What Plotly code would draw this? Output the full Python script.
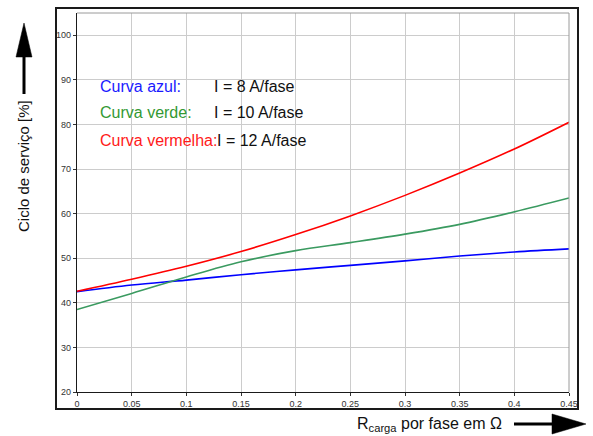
import plotly.graph_objects as go

# Load resistance per phase (ohm) and duty cycle (%) for three phase currents
r_carga = [0.0, 0.05, 0.10, 0.15, 0.20, 0.25, 0.30, 0.35, 0.40, 0.45]
ciclo_8A = [42.5, 44.0, 45.1, 46.3, 47.4, 48.4, 49.4, 50.5, 51.4, 52.1]
ciclo_10A = [38.5, 42.1, 45.8, 49.2, 51.7, 53.5, 55.4, 57.6, 60.4, 63.5]
ciclo_12A = [42.6, 45.3, 48.2, 51.5, 55.3, 59.5, 64.1, 69.1, 74.5, 80.5]

x_ticks = [0, 0.05, 0.1, 0.15, 0.2, 0.25, 0.3, 0.35, 0.4, 0.45]
x_tick_text = ["0", "0.05", "0.1", "0.15", "0.2", "0.25", "0.3", "0.35", "0.4", "0.45"]
y_ticks = [20, 30, 40, 50, 60, 70, 80, 90, 100]

legend_rows = [
    ("Curva azul:", "I = 8 A/fase", "#1a1aff"),
    ("Curva verde:", "I = 10 A/fase", "#339933"),
    ("Curva vermelha:", "I = 12 A/fase", "#ff1a1a"),
]

FONT = "Arial, Liberation Sans, sans-serif"
W, H = 593, 436
L, R, T, B = 77, 24, 13, 44
PW, PH = W - L - R, H - T - B


def px(x):
    return (x - L) / PW


def py(y):
    return (H - B - y) / PH


fig = go.Figure()
for ys, col in [(ciclo_8A, "#0000ff"), (ciclo_10A, "#3a9a60"), (ciclo_12A, "#ff0000")]:
    fig.add_trace(go.Scatter(x=r_carga, y=ys, mode="lines",
                             line=dict(color=col, width=1.6, shape="spline", smoothing=1.0),
                             showlegend=False, hoverinfo="skip"))

shapes = [
    # outer frame
    dict(type="rect", xref="paper", yref="paper", x0=px(56), x1=px(578), y0=py(409), y1=py(8),
         line=dict(color="#1a1a1a", width=2), layer="above"),
    # top and right plot borders
    dict(type="line", xref="paper", yref="paper", x0=0, x1=1, y0=1, y1=1,
         line=dict(color="#9a9a9a", width=1)),
    dict(type="line", xref="paper", yref="paper", x0=1, x1=1, y0=0, y1=1,
         line=dict(color="#9a9a9a", width=1)),
    # white panel behind the curve captions
    dict(type="rect", xref="paper", yref="paper", x0=px(97), x1=px(325), y0=py(157), y1=py(81),
         fillcolor="white", line=dict(width=0), layer="between"),
    # y-axis arrow: shaft + head
    dict(type="line", xref="paper", yref="paper", x0=px(24), x1=px(24), y0=py(94), y1=py(54),
         line=dict(color="black", width=3)),
    dict(type="path", xref="paper", yref="paper",
         path=f"M {px(24)} {py(23)} L {px(16)} {py(57)} L {px(32)} {py(57)} Z",
         fillcolor="black", line=dict(color="black", width=0.5)),
    # x-axis arrow: shaft + head
    dict(type="line", xref="paper", yref="paper", x0=px(514), x1=px(556), y0=py(424), y1=py(424),
         line=dict(color="black", width=3)),
    dict(type="path", xref="paper", yref="paper",
         path=f"M {px(586)} {py(424)} L {px(552)} {py(414)} L {px(552)} {py(434)} Z",
         fillcolor="black", line=dict(color="black", width=0.5)),
]

annotations = []
row_y = [86, 112, 140]
for (lab, val, col), yy in zip(legend_rows, row_y):
    annotations.append(dict(xref="paper", yref="paper", x=px(98), y=py(yy), text=lab,
                            xanchor="left", yanchor="middle", showarrow=False,
                            font=dict(family=FONT, size=16, color=col)))
    annotations.append(dict(xref="paper", yref="paper", x=px(212 if yy < 130 else 215), y=py(yy), text=val,
                            xanchor="left", yanchor="middle", showarrow=False,
                            font=dict(family=FONT, size=16, color="#111111")))

annotations.append(dict(xref="paper", yref="paper", x=px(23), y=py(166),
                        text="Ciclo de serviço [%]", textangle=-90, showarrow=False,
                        xanchor="center", yanchor="middle",
                        font=dict(family=FONT, size=15, color="#111111")))
annotations.append(dict(xref="paper", yref="paper", x=px(429), y=py(424),
                        text="R<sub>carga</sub> por fase em Ω", showarrow=False,
                        xanchor="center", yanchor="middle",
                        font=dict(family=FONT, size=16, color="#111111")))

fig.update_layout(
    width=W, height=H,
    margin=dict(l=L, r=R, t=T, b=B),
    paper_bgcolor="white", plot_bgcolor="white",
    shapes=shapes, annotations=annotations,
    xaxis=dict(range=[0, 0.45], tickvals=x_ticks, ticktext=x_tick_text,
               showgrid=True, gridcolor="#cccccc", gridwidth=1,
               showline=True, linecolor="#1a1a1a", linewidth=1.2,
               ticks="outside", ticklen=3, tickcolor="#333333",
               tickfont=dict(family=FONT, size=9, color="#333333"), zeroline=False),
    yaxis=dict(range=[20, 105], tickvals=y_ticks,
               showgrid=True, gridcolor="#cccccc", gridwidth=1,
               showline=True, linecolor="#1a1a1a", linewidth=1.2,
               ticks="outside", ticklen=3, tickcolor="#333333",
               tickfont=dict(family=FONT, size=9, color="#333333"), zeroline=False),
)

fig.write_html("out.html")
